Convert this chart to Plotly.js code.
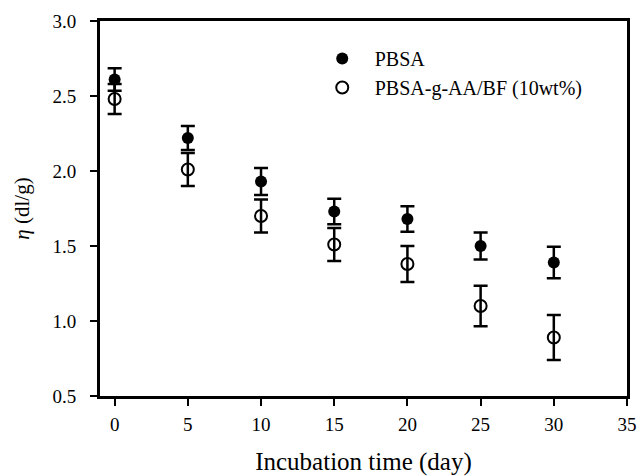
<!DOCTYPE html>
<html>
<head>
<meta charset="utf-8">
<script src="https://cdn.plot.ly/plotly-3.0.1.min.js"></script>
<style>html,body{margin:0;padding:0;background:#fff;}#chart{width:640px;height:476px;}</style>
</head>
<body>
<div id="chart"></div>
<script>
const days = [0, 5, 10, 15, 20, 25, 30];
const pbsa = [2.61, 2.22, 1.93, 1.73, 1.68, 1.50, 1.39];
const pbsaErr = [0.075, 0.08, 0.09, 0.085, 0.085, 0.09, 0.105];
const pbsaG = [2.48, 2.01, 1.70, 1.51, 1.38, 1.10, 0.89];
const pbsaGErr = [0.10, 0.11, 0.11, 0.11, 0.12, 0.135, 0.15];
const xTicks = [0, 5, 10, 15, 20, 25, 30, 35];
const yTicks = [0.5, 1.0, 1.5, 2.0, 2.5, 3.0];
const names = ['PBSA', 'PBSA-g-AA/BF (10wt%)'];

const font = 'Liberation Serif, Times New Roman, serif';

const traces = [
  {
    x: days, y: pbsaG, name: names[1], type: 'scatter', mode: 'markers',
    marker: {symbol: 'circle-open', size: 12, color: '#000', line: {width: 2, color: '#000'}},
    error_y: {type: 'data', array: pbsaGErr, visible: true, color: '#000', thickness: 2.5, width: 7}
  },
  {
    x: days, y: pbsa, name: names[0], type: 'scatter', mode: 'markers',
    marker: {symbol: 'circle', size: 12, color: '#000'},
    error_y: {type: 'data', array: pbsaErr, visible: true, color: '#000', thickness: 2.5, width: 7}
  }
];

const layout = {
  width: 640, height: 476,
  margin: {l: 100, r: 13, t: 21, b: 80},
  paper_bgcolor: '#fff', plot_bgcolor: '#fff',
  font: {family: font, color: '#000', size: 19},
  showlegend: true,
  legend: {
    x: 0.398, y: 0.952, xanchor: 'left', yanchor: 'top',
    traceorder: 'reversed', bgcolor: 'rgba(0,0,0,0)',
    font: {family: font, size: 20, color: '#000'},
    itemwidth: 55, tracegroupgap: 0
  },
  xaxis: {
    range: [-1, 35], tickvals: xTicks, ticktext: xTicks.map(String),
    showgrid: false, zeroline: false,
    showline: true, linecolor: '#000', linewidth: 3, mirror: true,
    ticks: 'outside', ticklen: 7, tickwidth: 2, tickcolor: '#000',
    ticklabelstandoff: 2,
    tickfont: {family: font, size: 19, color: '#000'},
    title: {text: 'Incubation time (day)', font: {family: font, size: 25, color: '#000'}, standoff: 22}
  },
  yaxis: {
    range: [0.5, 3.0], tickvals: yTicks, ticktext: yTicks.map(v => v.toFixed(1)),
    showgrid: false, zeroline: false,
    showline: true, linecolor: '#000', linewidth: 3, mirror: true,
    ticks: 'outside', ticklen: 7, tickwidth: 2, tickcolor: '#000',
    ticklabelstandoff: 10,
    tickfont: {family: font, size: 19, color: '#000'},
    title: {text: '<i>η</i> (dl/g)', font: {family: font, size: 21, color: '#000'}, standoff: 18}
  }
};

Plotly.newPlot('chart', traces, layout, {staticPlot: true, displayModeBar: false});
</script>
</body>
</html>
